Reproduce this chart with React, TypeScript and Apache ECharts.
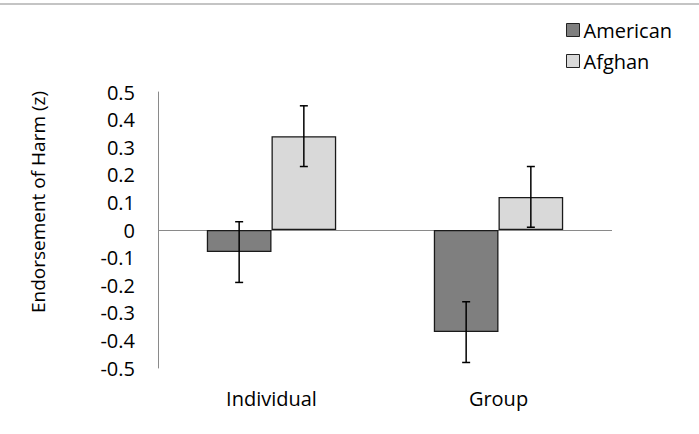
import React, { useEffect, useRef } from "react";
import * as echarts from "echarts";

// Condition categories along the x axis
const categories = ["Individual", "Group"];
const seriesNames = ["American", "Afghan"];

// Mean endorsement (z-scores) per group
const american = [-0.08, -0.37];
const afghan = [0.34, 0.12];

// Error bar half-lengths
const americanErr = [0.11, 0.11];
const afghanErr = [0.11, 0.11];

// Value axis range
const yMin = -0.5;
const yMax = 0.5;
const yStep = 0.1;

const FONT = "'Open Sans', 'Noto Sans', sans-serif";
const CATEGORY_GAP = 0.43;

function errorSeries(values: number[], errs: number[], side: number) {
  return {
    type: "custom",
    silent: true,
    z: 5,
    data: values.map((v, i) => [i, v, errs[i]]),
    renderItem: (_params: any, api: any) => {
      const c = api.value(0);
      const v = api.value(1);
      const e = api.value(2);
      const band = api.size([1, 0])[0];
      const barW = (band * (1 - CATEGORY_GAP)) / 2;
      const top = api.coord([c, v + e]);
      const bot = api.coord([c, v - e]);
      const x = top[0] + (side * barW) / 2;
      const cap = 4;
      const style = { stroke: "#000", lineWidth: 1.5 };
      return {
        type: "group",
        children: [
          { type: "line", shape: { x1: x, y1: top[1], x2: x, y2: bot[1] }, style },
          { type: "line", shape: { x1: x - cap, y1: top[1], x2: x + cap, y2: top[1] }, style },
          { type: "line", shape: { x1: x - cap, y1: bot[1], x2: x + cap, y2: bot[1] }, style },
        ],
      };
    },
  };
}

export default function App() {
  const ref = useRef<HTMLDivElement>(null);

  useEffect(() => {
    if (!ref.current) return;
    const chart = echarts.init(ref.current, undefined, { renderer: "svg" });
    chart.setOption({
      animation: false,
      textStyle: { fontFamily: FONT, color: "#000" },
      graphic: [
        {
          type: "rect",
          shape: { x: 0, y: 3, width: 699, height: 2 },
          style: { fill: "#c4c4c4" },
          silent: true,
        },
      ],
      legend: {
        orient: "vertical",
        left: 561,
        top: 15,
        itemWidth: 13,
        itemHeight: 13,
        itemGap: 11,
        icon: "rect",
        data: seriesNames,
        textStyle: { fontFamily: FONT, fontSize: 20, color: "#000", padding: [0, 0, 0, -1] },
        itemStyle: { borderColor: "#222", borderWidth: 1 },
      },
      grid: { left: 158, right: 87, top: 92, bottom: 66 },
      xAxis: {
        type: "category",
        data: categories,
        axisLine: { show: false },
        axisTick: { show: false },
        axisLabel: { fontSize: 20, margin: 20, color: "#000", fontFamily: FONT },
      },
      yAxis: {
        type: "value",
        min: yMin,
        max: yMax,
        interval: yStep,
        name: "Endorsement of Harm (z)",
        nameLocation: "middle",
        nameGap: 111,
        nameTextStyle: { fontSize: 19, color: "#000", fontFamily: FONT, padding: [0, 0, 0, 56] },
        axisLine: { show: true, lineStyle: { color: "#8a8a8a", width: 1 } },
        axisTick: { show: false },
        splitLine: { show: false },
        axisLabel: {
          fontSize: 20,
          margin: 23,
          color: "#000",
          fontFamily: FONT,
          formatter: (v: number) => {
            const r = Math.round(v * 10) / 10;
            return r === 0 ? "0" : r.toFixed(1);
          },
        },
      },
      series: [
        {
          name: seriesNames[0],
          type: "bar",
          data: american,
          barGap: "0%",
          barCategoryGap: `${CATEGORY_GAP * 100}%`,
          itemStyle: { color: "#7f7f7f", borderColor: "#1a1a1a", borderWidth: 1.3 },
          markLine: {
            silent: true,
            symbol: "none",
            label: { show: false },
            lineStyle: { color: "#8a8a8a", width: 1, type: "solid" },
            data: [{ yAxis: 0 }],
            z: 1,
          },
        },
        {
          name: seriesNames[1],
          type: "bar",
          data: afghan,
          barGap: "0%",
          barCategoryGap: `${CATEGORY_GAP * 100}%`,
          itemStyle: { color: "#d9d9d9", borderColor: "#1a1a1a", borderWidth: 1.3 },
        },
        errorSeries(american, americanErr, -1),
        errorSeries(afghan, afghanErr, 1),
      ],
    });
    return () => chart.dispose();
  }, []);

  return (
    <div
      ref={ref}
      style={{ position: "fixed", left: 0, top: 0, width: 699, height: 434, background: "#fff" }}
    />
  );
}
